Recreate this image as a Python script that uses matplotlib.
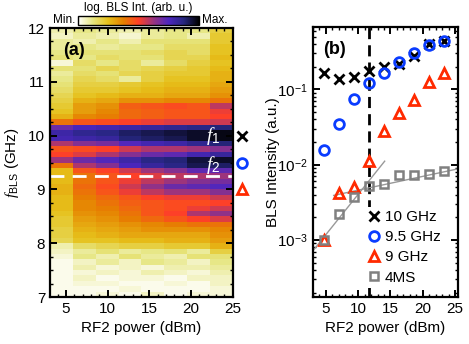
import numpy as np
import matplotlib as mpl
import matplotlib.pyplot as plt
from matplotlib.ticker import MultipleLocator, LogLocator, NullFormatter

plt.rcParams['font.family'] = ['Liberation Sans', 'DejaVu Sans']
plt.rcParams['mathtext.fontset'] = 'custom'
plt.rcParams['mathtext.rm'] = 'Liberation Sans'
plt.rcParams['mathtext.it'] = 'Liberation Serif:italic'
plt.rcParams['mathtext.bf'] = 'Liberation Sans:bold'

# ---- panel (a): BLS map, columns = RF2 power, rows = frequency (top row 11.95 GHz)
heat_power = [4.5, 7.3, 10.0, 12.7, 15.4, 18.1, 20.9, 23.6]
heat_rows = [
    [8, 12, 10, 8, 10, 12, 12, 20],      # 11.95
    [6, 10, 8, 5, 10, 12, 8, 22],
    [10, 8, 12, 8, 14, 14, 14, 22],
    [10, 12, 10, 12, 12, 16, 16, 24],
    [12, 14, 14, 14, 16, 18, 16, 24],
    [14, 12, 16, 14, 14, 18, 18, 26],
    [4, 16, 12, 16, 10, 16, 20, 24],
    [14, 14, 18, 16, 18, 20, 22, 26],
    [10, 16, 14, 18, 20, 22, 22, 28],
    [12, 18, 16, 10, 20, 24, 24, 28],
    [14, 20, 20, 22, 24, 26, 26, 30],    # 10.95
    [16, 22, 22, 24, 26, 28, 28, 32],
    [18, 24, 26, 28, 28, 30, 30, 34],
    [20, 28, 30, 34, 34, 36, 36, 40],
    [22, 32, 34, 44, 46, 48, 46, 58],
    [24, 32, 36, 42, 44, 46, 46, 52],
    [28, 36, 38, 42, 44, 46, 46, 50],
    [40, 46, 48, 50, 52, 54, 54, 56],
    [70, 76, 78, 80, 82, 84, 86, 88],
    [80, 84, 86, 90, 92, 94, 96, 98],
    [78, 80, 82, 88, 90, 92, 96, 98],    # 9.95
    [60, 66, 68, 74, 78, 80, 84, 88],
    [46, 48, 50, 56, 60, 60, 62, 66],
    [50, 54, 60, 66, 70, 72, 78, 82],
    [62, 70, 74, 80, 86, 88, 94, 96],
    [40, 60, 66, 76, 82, 86, 92, 90],
    [26, 46, 50, 56, 62, 66, 72, 72],
    [26, 40, 46, 50, 54, 58, 60, 62],
    [26, 40, 46, 52, 58, 62, 66, 68],
    [28, 42, 48, 56, 64, 70, 72, 74],
    [28, 40, 46, 52, 58, 62, 62, 66],    # 8.95
    [26, 38, 42, 46, 50, 52, 52, 56],
    [26, 36, 40, 44, 46, 48, 48, 50],
    [26, 36, 38, 42, 46, 48, 52, 56],
    [24, 34, 36, 40, 46, 50, 60, 64],
    [22, 32, 34, 38, 42, 46, 50, 54],
    [22, 30, 32, 34, 36, 38, 40, 40],
    [20, 28, 30, 32, 34, 34, 34, 36],
    [20, 26, 28, 30, 30, 30, 30, 34],
    [18, 24, 24, 26, 26, 28, 28, 32],
    [8, 16, 18, 20, 20, 22, 22, 28],     # 7.95
    [6, 10, 14, 10, 12, 14, 10, 20],
    [4, 12, 8, 14, 10, 8, 14, 14],
    [2, 6, 10, 6, 12, 10, 6, 12],
    [2, 8, 4, 6, 4, 8, 8, 10],
    [2, 4, 6, 4, 8, 6, 4, 8],
    [2, 6, 2, 4, 4, 2, 6, 6],
    [2, 4, 4, 2, 2, 4, 2, 6],
    [2, 2, 2, 4, 2, 2, 2, 4],
    [2, 2, 4, 2, 6, 2, 4, 4],            # 7.05
]
f1, f2, f_cut, f_tri = 10.0, 9.45, 9.25, 9.0

# ---- panel (b): BLS intensity vs RF2 power
power = [4.7, 7.0, 9.35, 11.65, 14.0, 16.3, 18.6, 20.95, 23.3]
i_10GHz = [0.163, 0.137, 0.147, 0.177, 0.195, 0.217, 0.279, 0.40, 0.44]
i_95GHz = [0.0157, 0.0348, 0.0746, 0.120, 0.163, 0.233, 0.303, 0.387, 0.433]
i_9GHz = [0.00099, 0.0042, 0.0050, 0.0111, 0.0278, 0.048, 0.0724, 0.126, 0.163]
i_4MS = [0.0010, 0.00218, 0.00372, 0.00519, 0.00559, 0.0072, 0.0072, 0.0074, 0.0082]
fit_steep_x = [3.0, 14.1]
fit_steep_y = [0.00072, 0.0111]
fit_flat_x = [6.2, 25.5]
fit_flat_y = [0.0039, 0.0088]
p_threshold = 11.7

c_blue = '#0a3cff'
c_red = '#ff2a00'
c_gray = '#808080'

fig = plt.figure(figsize=(4.69, 3.44), dpi=100)

# ----------------- (a)
ax1 = fig.add_axes([0.1066, 0.1366, 0.3896, 0.782])
hp = np.array(heat_power)
step = np.diff(hp)
x_edges = np.concatenate([[hp[0] - step[0] / 2], (hp[:-1] + hp[1:]) / 2, [hp[-1] + step[-1] / 2]])
y_edges = np.linspace(7.0, 12.0, len(heat_rows) + 1)
Z = np.array(heat_rows)[::-1]
mesh = ax1.pcolormesh(x_edges, y_edges, Z, cmap='CMRmap_r', vmin=0, vmax=100, shading='flat')
ax1.axhline(f_cut, color='white', lw=2, dashes=(5, 3))
ax1.text(22.6, f1, '$f_1$', color='white', fontsize=14, ha='center', va='center')
ax1.text(22.6, f2, '$f_2$', color='white', fontsize=14, ha='center', va='center')
ax1.plot([26.1], [f1], 'x', color='black', ms=7, mew=2, clip_on=False)
ax1.plot([26.1], [f2 + 0.05], 'o', mfc='none', mec=c_blue, ms=7, mew=2, clip_on=False)
ax1.plot([26.1], [f_tri], '^', mfc='none', mec=c_red, ms=7.5, mew=2, clip_on=False)
ax1.set_xlim(3.1, 25.0)
ax1.set_ylim(7, 12)
ax1.xaxis.set_major_locator(MultipleLocator(5))
ax1.xaxis.set_minor_locator(MultipleLocator(1))
ax1.yaxis.set_major_locator(MultipleLocator(1))
ax1.yaxis.set_minor_locator(MultipleLocator(0.25))
ax1.set_xlabel('RF2 power (dBm)', fontsize=11)
ax1.set_ylabel('$f_{\\rm BLS}$ (GHz)', fontsize=11)
ax1.yaxis.set_label_coords(-0.16, 0.5)
ax1.text(0.129, 0.918, '(a)', transform=ax1.transAxes, fontsize=13, fontweight='bold',
         ha='center', va='center')

# colorbar on top
cax = fig.add_axes([0.1657, 0.9273, 0.2586, 0.027])
cb = fig.colorbar(mesh, cax=cax, orientation='horizontal')
cb.set_ticks([])
cb.outline.set_linewidth(1.0)
fig.text(0.1617, 0.9408, 'Min.', fontsize=8.5, ha='right', va='center')
fig.text(0.4303, 0.9408, 'Max.', fontsize=8.5, ha='left', va='center')
fig.text(0.2943, 0.978, 'log. BLS Int. (arb. u.)', fontsize=8.5, ha='center', va='center')

# ----------------- (b)
ax2 = fig.add_axes([0.6667, 0.1366, 0.3098, 0.785])
ax2.axvline(p_threshold, color='black', lw=2, dashes=(4, 2.2), zorder=1)
ax2.plot(fit_steep_x, fit_steep_y, color='#999999', lw=1, zorder=2)
ax2.plot(fit_flat_x, fit_flat_y, color='#999999', lw=1, zorder=2)
h10, = ax2.plot(power, i_10GHz, 'x', color='black', ms=7, mew=2, ls='none', zorder=3,
                label='10 GHz')
h9, = ax2.plot(power, i_9GHz, '^', mfc='none', mec=c_red, ms=7.5, mew=2, ls='none',
               zorder=4, label='9 GHz')
hms, = ax2.plot(power, i_4MS, 's', mfc='none', mec=c_gray, ms=6, mew=1.8, ls='none',
                zorder=5, label='4MS')
h95, = ax2.plot(power, i_95GHz, 'o', mfc='none', mec=c_blue, ms=7, mew=2, ls='none',
                zorder=6, label='9.5 GHz')
ax2.set_yscale('log')
ax2.set_xlim(2.95, 25.45)
ax2.set_ylim(1.75e-4, 0.67)
ax2.xaxis.set_major_locator(MultipleLocator(5))
ax2.xaxis.set_minor_locator(MultipleLocator(1))
ax2.set_yticks([1e-3, 1e-2, 1e-1])
ax2.set_yticklabels(['10$^{-3}$', '10$^{-2}$', '10$^{-1}$'])
ax2.yaxis.set_minor_locator(LogLocator(base=10, subs=np.arange(2, 10)))
ax2.yaxis.set_minor_formatter(NullFormatter())
ax2.set_xlabel('RF2 power (dBm)', fontsize=11)
ax2.set_ylabel('BLS Intensity (a.u.)', fontsize=11)
ax2.yaxis.set_label_coords(-0.225, 0.5)
ax2.text(0.153, 0.915, '(b)', transform=ax2.transAxes, fontsize=13, fontweight='bold',
         ha='center', va='center')
leg = ax2.legend([h10, h95, h9, hms], ['10 GHz', '9.5 GHz', '9 GHz', '4MS'],
                 loc='lower left', bbox_to_anchor=(0.36, 0.035), fontsize=11,
                 handlelength=0.8, handletextpad=0.3, labelspacing=0.4,
                 borderpad=0.2, borderaxespad=0.0, frameon=True)
leg.get_frame().set_edgecolor('none')
leg.get_frame().set_facecolor('white')
leg.get_frame().set_alpha(1)
leg.set_zorder(10)

for ax in (ax1, ax2):
    ax.tick_params(which='both', direction='in', top=True, right=True, labelsize=11)
    ax.tick_params(which='major', length=5, width=1.4)
    ax.tick_params(which='minor', length=2.5, width=1)
    for s in ax.spines.values():
        s.set_linewidth(1.6)

fig.savefig('out.png', dpi=100)
